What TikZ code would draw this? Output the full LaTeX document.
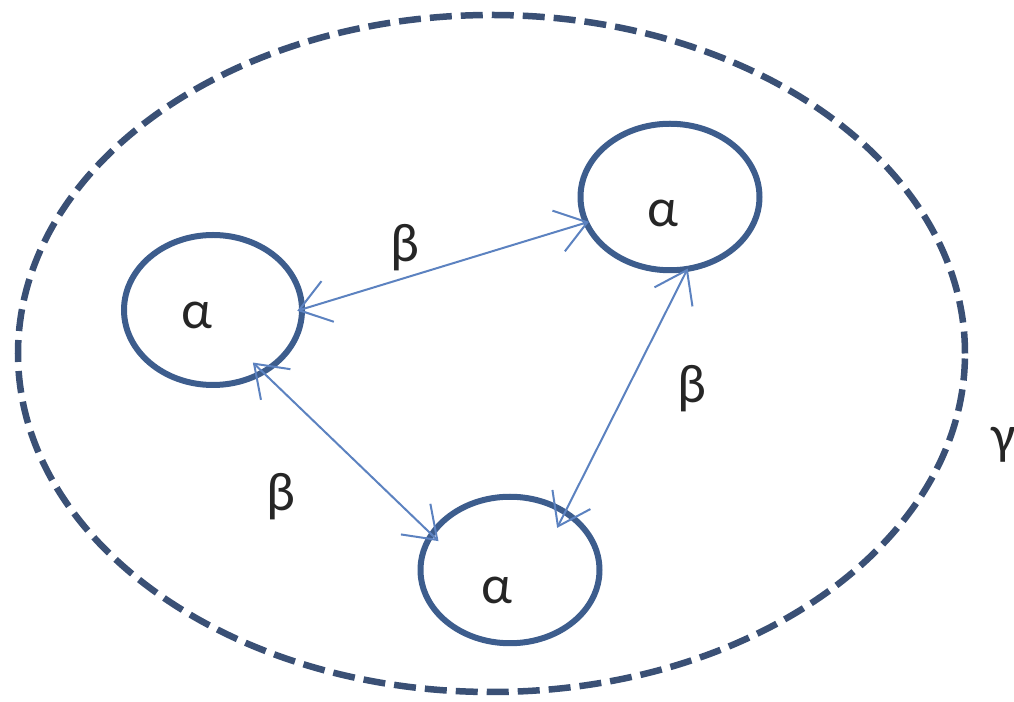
\documentclass[tikz,border=0pt]{standalone}
\usepackage{fontspec}
\setmainfont{Carlito}
\usepackage{tikz}
\usetikzlibrary{calc,positioning,shapes.geometric,arrows.meta}
\definecolor{ringblue}{RGB}{61,93,141}
\definecolor{dashblue}{RGB}{58,80,117}
\definecolor{linkblue}{RGB}{92,130,192}

\begin{document}
\begin{tikzpicture}[
        cell/.style={ellipse, draw=ringblue, line width=0.12cm, inner sep=0pt, minimum width=3.58cm, minimum height=2.93cm},
        env/.style={ellipse, draw=dashblue, line width=0.13cm, dash pattern=on 0.44cm off 0.18cm, minimum width=18.94cm, minimum height=13.54cm},
        lbl/.style={font=\fontsize{31}{35}\selectfont, text=black!85, inner sep=0pt},
        link/.style={draw=linkblue, line width=0.04cm, {Straight Barb[length=0.6cm,width=0.85cm]}-{Straight Barb[length=0.6cm,width=0.85cm]}}
    ]
        \useasboundingbox (0,0) rectangle (20.28,-14.04);
        % Nodes
        \node (env) [env] at (9.83,-7.07) {};
        \node (a1) [cell, minimum width=3.56cm, minimum height=3.0cm] at (4.26,-6.2) {};
        \node (a2) [cell] at (13.4,-3.94) {};
        \node (a3) [cell] at (10.2,-11.4) {};

        \node (a1txt) [lbl] at ($(a1)+(-0.32,-0.1)$) {α};
        \node (a2txt) [lbl] at ($(a2)+(-0.14,-0.32)$) {α};
        \node (a3txt) [lbl] at ($(a3)+(-0.26,-0.4)$) {α};
        \node (gtxt) [lbl] at (20.08,-8.9) {γ};

        % Links
        \draw [link, shorten <=-0.16cm, shorten >=-0.12cm] (a1.1) -- (a2.197) node[lbl, midway, xshift=-0.78cm, yshift=0.36cm] {β};
        \draw [link, shorten <=-0.08cm, shorten >=-0.41cm] (a2.-78) -- (a3.47) node[lbl, midway, xshift=1.32cm, yshift=0.05cm] {β};
        \draw [link, shorten <=-0.34cm, shorten >=-0.25cm] (a1.-51) -- (a3.155) node[lbl, midway, xshift=-1.32cm, yshift=-0.87cm] {β};
    \end{tikzpicture}
\end{document}
